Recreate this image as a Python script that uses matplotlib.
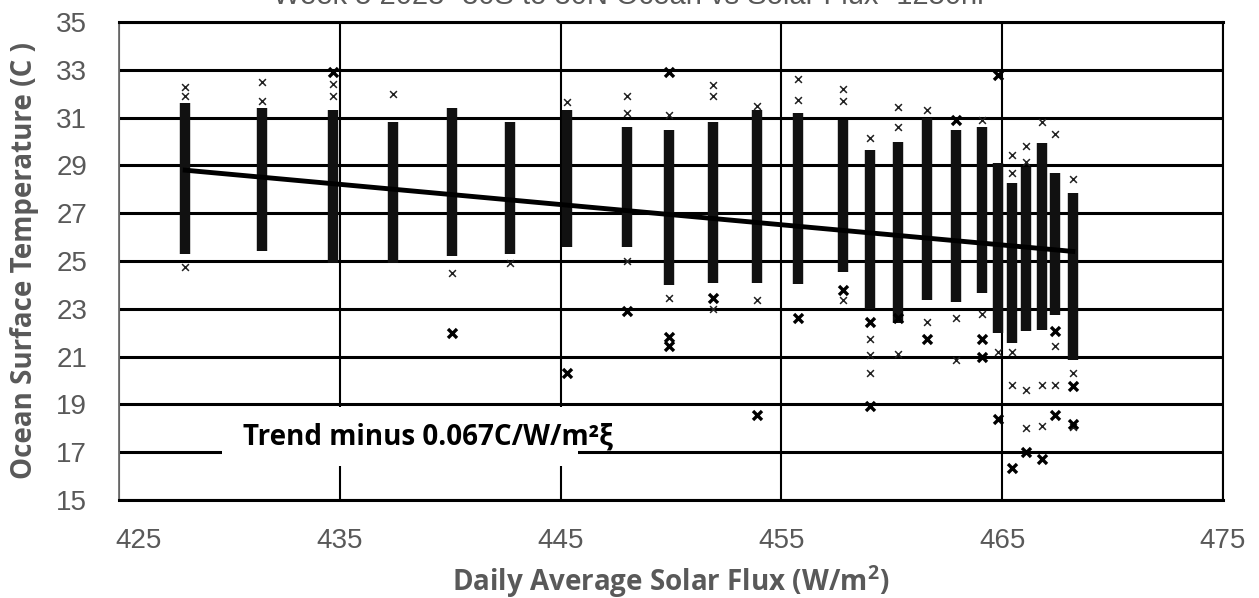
import matplotlib

matplotlib.use("Agg")

import matplotlib.pyplot as plt  # noqa: E402
import matplotlib.transforms as mtransforms  # noqa: E402
from matplotlib.patches import Rectangle  # noqa: E402

# one column of readings per solar-flux value
flux = [428.0, 431.5, 434.7, 437.4, 440.1, 442.7, 445.3, 448.0, 449.9, 451.9,
        453.9, 455.75, 457.8, 459.0, 460.3, 461.6, 462.9, 464.1, 464.8, 465.45,
        466.1, 466.8, 467.4, 468.2]
band_low = [25.3, 25.4, 24.9, 24.9, 25.2, 25.3, 25.6, 25.6, 24.0, 24.1,
            24.1, 24.05, 24.55, 23.0, 22.4, 23.35, 23.3, 23.65, 22.0, 21.55,
            22.05, 22.1, 22.75, 20.85]
band_high = [31.6, 31.4, 31.3, 30.8, 31.4, 30.8, 31.3, 30.6, 30.5, 30.8,
             31.3, 31.2, 30.9, 29.65, 30.0, 31.0, 30.5, 30.6, 29.1, 28.25,
             28.95, 29.95, 28.7, 27.85]

# isolated readings outside the dense bands
sparse_x = [428.0, 428.0, 428.0, 431.5, 431.5, 434.7, 434.7, 437.4, 440.1, 442.7,
            445.3, 448.0, 448.0, 448.0, 449.9, 449.9, 451.9, 451.9, 451.9, 453.9,
            453.9, 455.75, 455.75, 457.8, 457.8, 457.8, 459.0, 459.0, 459.0, 459.0,
            460.3, 460.3, 460.3, 461.6, 461.6, 462.9, 462.9, 464.1, 464.1, 464.8,
            465.45, 465.45, 465.45, 465.45, 466.1, 466.1, 466.1, 466.1, 466.8, 466.8,
            466.8, 467.4, 467.4, 467.4, 468.2, 468.2, 468.2]
sparse_y = [32.3, 31.9, 24.75, 32.5, 31.7, 32.4, 31.9, 32.0, 24.5, 24.9,
            31.65, 31.9, 31.2, 25.0, 31.1, 23.45, 32.35, 31.9, 23.0, 31.5,
            23.35, 32.6, 31.75, 32.2, 31.7, 23.35, 30.15, 21.75, 21.05, 20.3,
            31.45, 30.6, 21.1, 31.3, 22.45, 22.6, 20.85, 30.9, 22.8, 21.2,
            29.45, 28.7, 21.2, 19.8, 29.8, 29.15, 19.6, 18.0, 30.8, 19.8,
            18.1, 30.3, 21.45, 19.8, 28.45, 20.3, 18.05]

# overlapping readings that print heavier
heavy_x = [434.7, 440.1, 445.3, 448.0, 449.9, 449.9, 449.9, 451.9, 453.9, 455.75,
           457.8, 459.0, 459.0, 460.3, 461.6, 462.9, 464.1, 464.1, 464.8, 464.8,
           465.45, 466.1, 466.8, 467.4, 467.4, 468.2, 468.2]
heavy_y = [32.9, 22.0, 20.3, 22.9, 32.9, 21.8, 21.45, 23.45, 18.55, 22.6,
           23.8, 22.45, 18.95, 22.6, 21.75, 30.9, 21.75, 21.0, 32.8, 18.4,
           16.35, 17.0, 16.7, 22.05, 18.55, 19.75, 18.2]

trend_x = [428.0, 468.2]
trend_y = [28.8, 25.4]

x_ticks = [425, 435, 445, 455, 465, 475]
y_ticks = [15, 17, 19, 21, 23, 25, 27, 29, 31, 33, 35]

title = "Week 5 2023 -30S to 30N Ocean vs Solar Flux -1250hr"
trend_label = "Trend minus 0.067C/W/m\u00b2\u03be"
grey = "#595959"

fig = plt.figure(figsize=(12.59, 5.98), dpi=100)
ax = fig.add_axes([0.0945, 0.1639, 0.8769, 0.7993])

ax.vlines(flux, band_low, band_high, colors="#111111", linewidth=7.5, zorder=3)
ax.scatter(sparse_x, sparse_y, marker="x", s=24, linewidths=1.1, color="#222222", zorder=3)
ax.scatter(heavy_x, heavy_y, marker="x", s=42, linewidths=2.4, color="black", zorder=3)
ax.plot(trend_x, trend_y, color="black", linewidth=3.5, zorder=4)

ax.set_xlim(425, 475)
ax.set_ylim(15, 35)
ax.set_xticks(x_ticks)
ax.set_yticks(y_ticks)
ax.set_axisbelow(True)
ax.grid(axis="y", color="black", linewidth=2.2)
ax.grid(axis="x", color="black", linewidth=1.5)
ax.tick_params(length=0, labelsize=20, labelcolor=grey)
ax.tick_params(axis="x", pad=20)
ax.tick_params(axis="y", pad=23)
for label in ax.get_xticklabels() + ax.get_yticklabels():
    label.set_fontfamily(["Liberation Sans", "DejaVu Sans"])

# the first x label is nudged clear of the y labels
first = ax.get_xticklabels()[0]
first.set_transform(first.get_transform() + mtransforms.ScaledTranslation(0.2, 0, fig.dpi_scale_trans))

for side in ("top", "bottom"):
    ax.spines[side].set_linewidth(2.2)
    ax.spines[side].set_color("black")
ax.spines["right"].set_linewidth(1.5)
ax.spines["left"].set_linewidth(1.3)
ax.spines["left"].set_color("#707070")

ax.set_xlabel("Daily Average Solar Flux (W/m$^\\mathregular{2}$)", fontsize=20, fontweight="bold",
              color=grey, family=["Open Sans", "DejaVu Sans"], labelpad=7)
ax.set_ylabel("Ocean Surface Temperature (C )", fontsize=20, fontweight="bold",
              color=grey, family=["Open Sans", "DejaVu Sans"])
ax.yaxis.set_label_coords(-0.072, 0.5)

# white label box breaking the gridlines
ax.add_patch(Rectangle((429.65, 16.42), 16.15, 2.48, facecolor="white", edgecolor="none", zorder=1))
ax.text(430.6, 17.3, trend_label, fontsize=20, fontweight="bold", color="black",
        family=["Open Sans", "DejaVu Sans"], va="baseline", zorder=5)

# title sits mostly above the top edge, as in the source image
fig.text(0.5, 1.006, title, ha="center", va="center", fontsize=21, color=grey,
         family=["Liberation Sans", "DejaVu Sans"])

fig.savefig("out.png", dpi=100)
plt.close(fig)
